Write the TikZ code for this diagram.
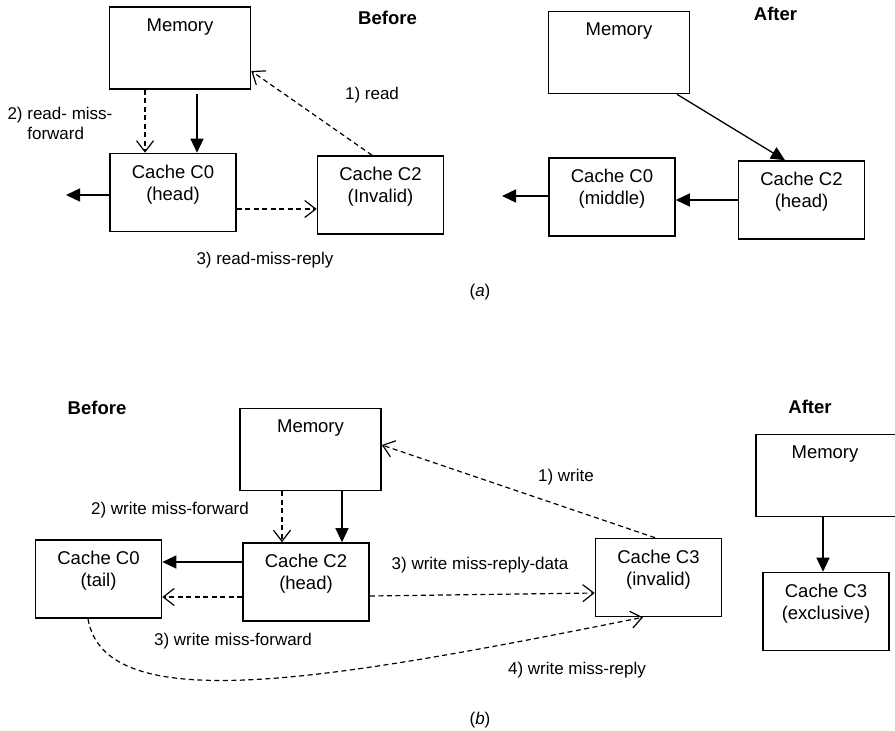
\documentclass[tikz,border=0pt]{standalone}
\usepackage{fontspec}
\setmainfont{Liberation Sans}
\usepackage{tikz}
\usetikzlibrary{arrows.meta,positioning}

\begin{document}
\begin{tikzpicture}[x=1pt,y=-1pt,
    cachebox/.style={draw, line width=1.6pt, minimum width=126pt, minimum height=78pt, inner sep=0pt},
    membox/.style={cachebox, minimum width=141pt, minimum height=82pt},
    inside/.style={anchor=north, yshift=-12pt, inner sep=0pt, align=center, font=\fontsize{18.5}{22}\selectfont},
    lbl/.style={font=\fontsize{17}{19.5}\selectfont},
    ttl/.style={font=\fontsize{18.5}{22}\selectfont\bfseries},
    sol/.style={line width=1.3pt, -{Triangle[length=14pt,width=13pt]}},
    dsh/.style={line width=1.2pt, dash pattern=on 5pt off 3.5pt, -{Straight Barb[length=11pt,width=17pt]}}]
\useasboundingbox (0,0) rectangle (895,731);
\begin{scope}
    \node[ttl] (befA) at (387.5,17.5) {Before};
    \node[membox, label={[inside]north:Memory}] (memA) at (180,48) {};
    \node[cachebox, label={[inside]north:Cache C0\\(head)}] (c0A) at (173,192.5) {};
    \node[cachebox, label={[inside]north:Cache C2\\(Invalid)}] (c2A) at (380.5,195) {};
    \coordinate (outA) at (66,195);
    \node[lbl, align=left, anchor=north west] (rdfwd) at (4,104) {2) read- miss-\\\phantom{2) }forward};
    \node[lbl] (rd) at (372,95) {1) read};
    \node[lbl] (rdrep) at (265,260) {3) read-miss-reply};
    \draw[dsh] ([xshift=-35pt]memA.south) -- ([xshift=-28pt]c0A.north);
    \draw[sol, shorten <=4pt] ([xshift=17pt]memA.south) -- ([xshift=24pt]c0A.north);
    \draw[sol] ([yshift=-2.5pt]c0A.west) -- (outA);
    \draw[dsh] ([yshift=-16.5pt]c0A.east) -- ([yshift=-14pt]c2A.west);
    \draw[dsh] ([xshift=-8.5pt]c2A.north) -- ([yshift=-23pt]memA.east);

    \node[ttl] (aftA) at (775.5,14) {After};
    \node[membox, label={[inside]north:Memory}] (memA2) at (619,52.5) {};
    \node[cachebox, label={[inside]north:Cache C2\\(head)}] (c2A2) at (801.5,200) {};
    \node[cachebox, label={[inside]north:Cache C0\\(middle)}] (c0A2) at (612,197) {};
    \coordinate (outA2) at (502,196);
    \draw[sol] ([xshift=58pt]memA2.south) -- ([xshift=-16.5pt]c2A2.north);
    \draw[sol] (c2A2.west) -- ([yshift=-3pt]c0A2.east);
    \draw[sol] ([yshift=1pt]c0A2.west) -- (outA2);
    \node[lbl] (capA) at (480,292) {(\textit{a})};
\end{scope}
\begin{scope}
    \node[ttl] (befB) at (97,408) {Before};
    \node[membox, label={[inside]north:Memory}] (memB) at (310.5,449.5) {};
    \node[cachebox, label={[inside]north:Cache C2\\(head)}] (c2B) at (306,582) {};
    \node[cachebox, label={[inside]north:Cache C0\\(tail)}] (c0B) at (98.5,579) {};
    \node[cachebox, label={[inside]north:Cache C3\\(invalid)}] (c3B) at (658.5,577.5) {};
    \node[lbl] (wrfwd) at (170,510) {2) write miss-forward};
    \node[lbl] (wrfwdb) at (233,641) {3) write miss-forward};
    \node[lbl] (wrdat) at (480,565) {3) write miss-reply-data};
    \node[lbl] (wr) at (566,477) {1) write};
    \node[lbl] (wrrep) at (577,670) {4) write miss-reply};
    \draw[dsh] ([xshift=-28.5pt]memB.south) -- ([xshift=-24pt]c2B.north);
    \draw[sol] ([xshift=31.5pt]memB.south) -- ([xshift=36pt]c2B.north);
    \draw[sol] ([yshift=20pt]c2B.west) -- ([yshift=17pt]c0B.east);
    \draw[dsh] ([yshift=-15pt]c2B.west) -- ([yshift=-18pt]c0B.east);
    \draw[dsh] ([yshift=-14pt]c2B.east) -- ([yshift=-15.5pt]c3B.west);
    \draw[dsh] ([xshift=-3.5pt]c3B.north) -- ([yshift=4.5pt]memB.east);
    \draw[dsh] ([xshift=-10.5pt]c0B.south) .. controls (105,720) and (330,680) .. ([xshift=-15.5pt]c3B.south);

    \node[ttl] (aftB) at (810,407) {After};
    \node[membox, minimum width=160pt, label={[inside, xshift=-11pt]north:Memory}] (memB2) at (836,475.5) {};
    \node[cachebox, label={[inside]north:Cache C3\\(exclusive)}] (c3B2) at (826,611.5) {};
    \draw[sol] ([xshift=-13pt]memB2.south) -- ([xshift=-3pt]c3B2.north);
    \node[lbl] (capB) at (480,720) {(\textit{b})};
\end{scope}
\end{tikzpicture}
\end{document}
